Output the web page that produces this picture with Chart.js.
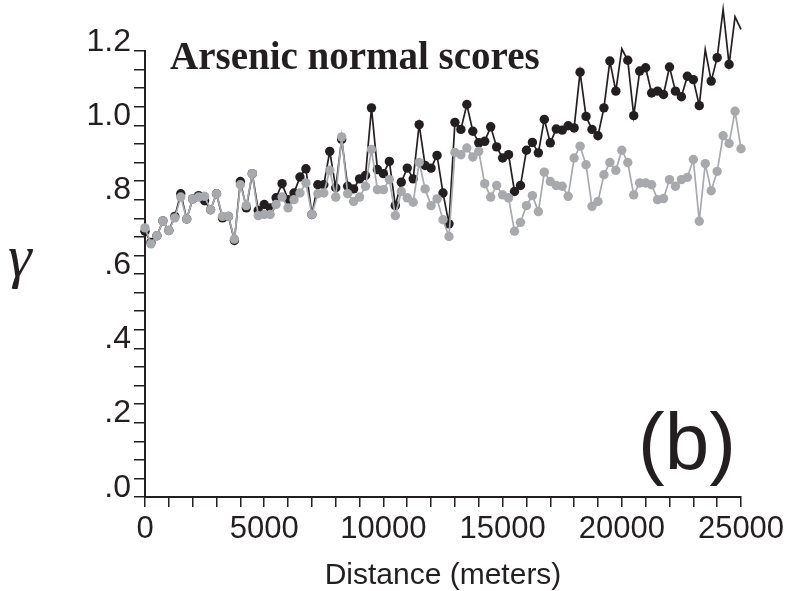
<!DOCTYPE html>
<html>
<head>
<meta charset="utf-8">
<script src="https://cdn.jsdelivr.net/npm/chart.js@4/dist/chart.umd.min.js"></script>
<style>
  body { margin: 0; background: #fff; }
  #wrap { position: relative; width: 792px; height: 591px; }
  .note { position: absolute; color: #231f20; line-height: 1; white-space: nowrap; }
  #gamma { left: 8px; top: 222px; font: italic 60px "Liberation Serif", serif; }
  #title { left: 170px; top: 33px; font: bold 39px "Liberation Serif", serif; }
  #panel { left: 638px; top: 396px; font: 80px "Liberation Sans", Arial, sans-serif; }
</style>
</head>
<body>
<div id="wrap">
  <canvas id="myChart" width="792" height="591"></canvas>
  <div class="note" id="gamma">γ</div>
  <div class="note" id="title">Arsenic normal scores</div>
  <div class="note" id="panel">(b)</div>
</div>
<script>
// Lag distances (meters)
const lags = [
    0, 250, 500, 750, 1000, 1250, 1500, 1750, 2000, 2250,
    2500, 2750, 3000, 3250, 3500, 3750, 4000, 4250, 4500, 4750,
    5000, 5250, 5500, 5750, 6000, 6250, 6500, 6750, 7000, 7250,
    7500, 7750, 8000, 8250, 8500, 8750, 9000, 9250, 9500, 9750,
    10000, 10250, 10500, 10750, 11000, 11250, 11500, 11750, 12000, 12250,
    12500, 12750, 13000, 13250, 13500, 13750, 14000, 14250, 14500, 14750,
    15000, 15250, 15500, 15750, 16000, 16250, 16500, 16750, 17000, 17250,
    17500, 17750, 18000, 18250, 18500, 18750, 19000, 19250, 19500, 19750,
    20000, 20250, 20500, 20750, 21000, 21250, 21500, 21750, 22000, 22250,
    22500, 22750, 23000, 23250, 23500, 23750, 24000, 24250, 24500, 24750,
    25000
];

// Black series
const blackGamma = [
    0.715, 0.685, 0.703, 0.743, 0.717, 0.755, 0.816, 0.748, 0.802, 0.811,
    0.797, 0.773, 0.816, 0.751, 0.755, 0.690, 0.849, 0.778, 0.870, 0.771,
    0.787, 0.778, 0.805, 0.843, 0.800, 0.818, 0.861, 0.883, 0.760, 0.840,
    0.840, 0.930, 0.832, 0.962, 0.836, 0.829, 0.856, 0.865, 1.047, 0.881,
    0.870, 0.903, 0.784, 0.847, 0.885, 0.856, 1.002, 0.892, 0.885, 0.919,
    0.818, 0.735, 1.008, 0.989, 1.056, 0.984, 0.953, 0.957, 0.996, 0.942,
    0.912, 0.921, 0.822, 0.838, 0.933, 0.954, 0.926, 1.016, 0.953, 0.990,
    0.987, 0.999, 0.993, 1.143, 1.024, 0.989, 0.972, 1.047, 1.173, 1.092,
    1.206, 1.175, 1.026, 1.146, 1.155, 1.087, 1.092, 1.083, 1.157, 1.092,
    1.077, 1.132, 1.123, 1.053, 1.204, 1.119, 1.182, 1.312, 1.164, 1.292,
    1.258
];

// Gray series
const grayGamma = [
    0.724, 0.681, 0.703, 0.743, 0.717, 0.751, 0.807, 0.748, 0.802, 0.807,
    0.809, 0.773, 0.816, 0.755, 0.755, 0.694, 0.840, 0.784, 0.870, 0.757,
    0.760, 0.760, 0.787, 0.807, 0.778, 0.800, 0.818, 0.845, 0.760, 0.816,
    0.818, 0.879, 0.807, 0.969, 0.816, 0.795, 0.807, 0.836, 0.935, 0.827,
    0.827, 0.854, 0.757, 0.822, 0.805, 0.793, 0.900, 0.829, 0.784, 0.802,
    0.746, 0.701, 0.927, 0.921, 0.939, 0.915, 0.930, 0.843, 0.807, 0.838,
    0.813, 0.805, 0.715, 0.739, 0.784, 0.811, 0.768, 0.874, 0.849, 0.838,
    0.836, 0.809, 0.912, 0.944, 0.894, 0.782, 0.795, 0.867, 0.900, 0.879,
    0.933, 0.900, 0.813, 0.845, 0.845, 0.840, 0.800, 0.803, 0.854, 0.836,
    0.854, 0.860, 0.908, 0.742, 0.897, 0.824, 0.876, 0.972, 0.951, 1.038,
    0.937
];

// Y ticks every .05, labels every .2
const yLabelTicks = ['.0', '.2', '.4', '.6', '.8', '1.0', '1.2'];
// X ticks every 1000, labels every 5000
const xLabelTicks = ['0', '5000', '10000', '15000', '20000', '25000'];

const ink = '#231f20';
const grey = '#a7a9ac';
const yMax = 1.2;

const toPoints = vals => vals.map((v, i) => ({ x: lags[i], y: v }));
// markers above the top of the axis are not shown, only the line
const markerSize = ctx => (ctx.raw && ctx.raw.y > yMax ? 0 : 4.7);

const ctx = document.getElementById('myChart').getContext('2d');

new Chart(ctx, {
    type: 'scatter',
    data: {
        datasets: [
            {
                label: 'gray',
                data: toPoints(grayGamma),
                showLine: true,
                borderColor: grey,
                backgroundColor: grey,
                borderWidth: 1.7,
                pointRadius: markerSize,
                pointBorderWidth: 0,
                clip: false
            },
            {
                label: 'black',
                data: toPoints(blackGamma),
                showLine: true,
                borderColor: ink,
                backgroundColor: ink,
                borderWidth: 1.7,
                pointRadius: markerSize,
                pointBorderWidth: 0,
                clip: false
            }
        ]
    },
    options: {
        responsive: false,
        animation: false,
        layout: {
            autoPadding: false,
            padding: { top: 51, right: 51, left: 0, bottom: 0 }
        },
        plugins: {
            legend: { display: false },
            tooltip: { enabled: false }
        },
        scales: {
            x: {
                type: 'linear',
                min: 0,
                max: 25000,
                afterFit: s => { s.height = 94; },
                border: { display: true, color: ink, width: 2 },
                grid: { drawOnChartArea: false, drawTicks: true, tickLength: 10, color: ink, lineWidth: 1.5 },
                ticks: {
                    stepSize: 1000,
                    autoSkip: false,
                    maxRotation: 0,
                    padding: 4,
                    color: ink,
                    font: { family: 'Liberation Sans', size: 31 },
                    callback: v => (v % 5000 === 0 ? xLabelTicks[v / 5000] : '')
                },
                title: {
                    display: true,
                    text: 'Distance (meters)',
                    color: ink,
                    padding: { top: 0, bottom: 0 },
                    font: { family: 'Liberation Sans', size: 30, lineHeight: 1 }
                }
            },
            y: {
                min: 0,
                max: yMax,
                afterFit: s => { s.width = 145; },
                border: { display: true, color: ink, width: 2 },
                grid: { drawOnChartArea: false, drawTicks: true, tickLength: 11, color: ink, lineWidth: 1.5 },
                ticks: {
                    stepSize: 0.05,
                    autoSkip: false,
                    padding: 3,
                    labelOffset: -9,
                    color: ink,
                    font: { family: 'Liberation Sans', size: 32 },
                    callback: v => {
                        const h = Math.round(v * 100);
                        return h % 20 === 0 ? yLabelTicks[h / 20] : '';
                    }
                }
            }
        }
    }
});
</script>
</body>
</html>
